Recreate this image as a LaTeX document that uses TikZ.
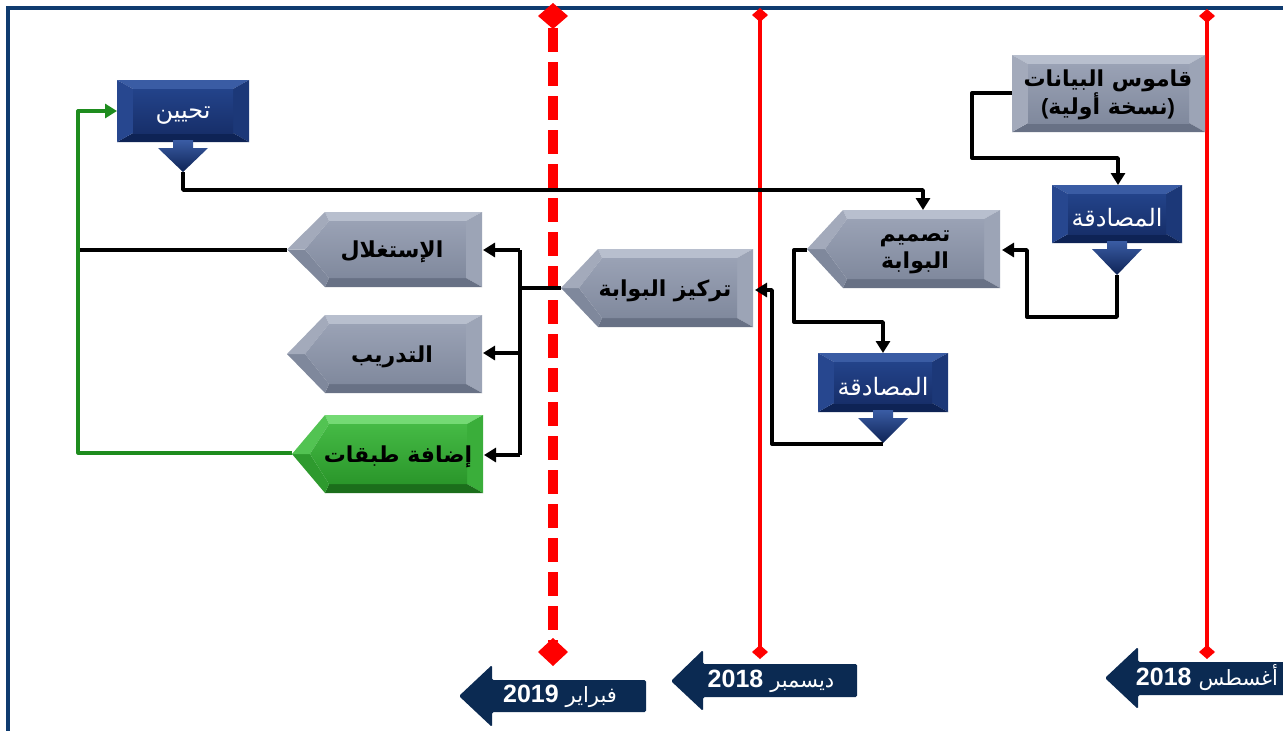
\documentclass[tikz,border=0pt]{standalone}
\usepackage{fontspec}
\setmainfont{Liberation Sans}
\newfontfamily\arabicfont[Script=Arabic]{DejaVu Sans}
\newfontfamily\latinfont{Liberation Sans}
\newcommand\datearfont{\fontsize{21}{26}\selectfont\arabicfont\mdseries}
\TeXXeTstate=1
\usetikzlibrary{arrows.meta,calc}

\definecolor{frameblue}{HTML}{0F3B6F}
\definecolor{navy}{HTML}{0B2A52}
\definecolor{tlred}{HTML}{FF0000}
\definecolor{lgreen}{HTML}{1E8C1E}
% gray bevel
\definecolor{gT}{HTML}{B8BFCE}
\definecolor{gL}{HTML}{A3AABB}
\definecolor{gLB}{HTML}{7F889C}
\definecolor{gR}{HTML}{9CA4B6}
\definecolor{gB}{HTML}{687185}
\definecolor{gIT}{HTML}{9AA2B5}
\definecolor{gIB}{HTML}{80899D}
% blue bevel
\definecolor{nT}{HTML}{3A5CA4}
\definecolor{nL}{HTML}{27478F}
\definecolor{nLB}{HTML}{1A3573}
\definecolor{nR}{HTML}{1C3878}
\definecolor{nB}{HTML}{0E2355}
\definecolor{nIT}{HTML}{23438A}
\definecolor{nIB}{HTML}{172F6A}
% green bevel
\definecolor{grT}{HTML}{74DA74}
\definecolor{grL}{HTML}{52C352}
\definecolor{grLB}{HTML}{2E9A2E}
\definecolor{grR}{HTML}{3AAE3A}
\definecolor{grB}{HTML}{1B6E1B}
\definecolor{grIT}{HTML}{45BA45}
\definecolor{grIB}{HTML}{2A962A}

\newcommand\bevrect[5]{%
  \fill[#5T] (#1,#2) -- (#3,#2) -- (#3-16,#2+9) -- (#1+16,#2+9) -- cycle;
  \fill[#5R] (#3,#2) -- (#3,#4) -- (#3-16,#4-9) -- (#3-16,#2+9) -- cycle;
  \fill[#5B] (#3,#4) -- (#1,#4) -- (#1+16,#4-9) -- (#3-16,#4-9) -- cycle;
  \fill[#5L] (#1,#4) -- (#1,#2) -- (#1+16,#2+9) -- (#1+16,#4-9) -- cycle;
  \shade[top color=#5IT, bottom color=#5IB] (#1+16,#2+9) rectangle (#3-16,#4-9);
}
\newcommand\bevpent[6]{%
  \pgfmathsetmacro\pmid{(#4+#5)/2}%
  \fill[#6T] (#2,#4) -- (#3,#4) -- (#3-16,#4+9) -- (#2+4,#4+9) -- cycle;
  \fill[#6R] (#3,#4) -- (#3,#5) -- (#3-16,#5-9) -- (#3-16,#4+9) -- cycle;
  \fill[#6B] (#3,#5) -- (#2,#5) -- (#2+4,#5-9) -- (#3-16,#5-9) -- cycle;
  \fill[#6LB] (#2,#5) -- (#1,\pmid) -- (#1+18,\pmid) -- (#2+4,#5-9) -- cycle;
  \fill[#6L] (#1,\pmid) -- (#2,#4) -- (#2+4,#4+9) -- (#1+18,\pmid) -- cycle;
  \shade[top color=#6IT, bottom color=#6IB] (#2+4,#4+9) -- (#3-16,#4+9) -- (#3-16,#5-9) -- (#2+4,#5-9) -- (#1+18,\pmid) -- cycle;
}
\newcommand\downarr[3]{%
  \shade[top color=nT, bottom color=nB] (#1-10,#2-2) -- (#1+10,#2-2) -- (#1+10,#2+6) -- (#1+25,#2+6) -- (#1,#3) -- (#1-25,#2+6) -- (#1-10,#2+6) -- cycle;
}

\tikzset{
  graylbl/.style={font=\fontsize{22}{27}\selectfont\bfseries\arabicfont, text=black, align=center, inner sep=0pt},
  bluelbl/.style={font=\fontsize{24}{28}\selectfont\arabicfont, text=white, inner sep=0pt},
  datelbl/.style={font=\fontsize{25}{28}\selectfont\bfseries, text=white, inner sep=0pt},
  plainline/.style={draw=black, line width=3.4pt, line join=round},
  conn/.style={plainline, -{Triangle[width=14pt,length=12pt]}},
  gconn/.style={draw=lgreen, line width=3.2pt, line join=round, -{Triangle[width=14pt,length=12pt]}},
  redline/.style={draw=tlred, line width=4.5pt},
  datearrow/.style={fill=navy, rounded corners=1.5pt},
}

\begin{document}
\begin{tikzpicture}[x=1pt,y=-1pt]
\useasboundingbox (0,0) rectangle (1283,731);
\fill[white] (0,0) rectangle (1283,731);

% frame
\draw[frameblue, line width=4pt] (8,731) -- (8,8) -- (1290,8);

% timeline red lines
\draw[tlred, line width=10pt, dash pattern=on 24pt off 10pt] (553,28) -- (553,642);
\fill[tlred] (553,3) -- (568,16) -- (553,29) -- (538,16) -- cycle;
\fill[tlred] (553,638) -- (568,652) -- (553,666) -- (538,652) -- cycle;
\draw[redline] (760,18) -- (760,650);
\fill[tlred] (760,8) -- (768,15) -- (760,22) -- (752,15) -- cycle;
\fill[tlred] (760,645) -- (768,652) -- (760,659) -- (752,652) -- cycle;
\draw[redline] (1207,18) -- (1207,650);
\fill[tlred] (1207,9) -- (1215,16) -- (1207,23) -- (1199,16) -- cycle;
\fill[tlred] (1207,645) -- (1215,652) -- (1207,659) -- (1199,652) -- cycle;

% date arrows
\fill[datearrow] (459,696) -- (492,665) -- (492,680) -- (646,680) -- (646,712) -- (492,712) -- (492,727) -- cycle;
\fill[datearrow] (671,681) -- (703,650) -- (703,664) -- (857,664) -- (857,697) -- (703,697) -- (703,711) -- cycle;
\fill[datearrow] (1105,678) -- (1138,647) -- (1138,662) -- (1295,662) -- (1295,695) -- (1138,695) -- (1138,709) -- cycle;
\node[datelbl] (feb) at (560,696) {2019 {\datearfont\beginR فبراير\endR}};
\node[datelbl] (dec) at (771,681) {2018 {\datearfont\beginR ديسمبر\endR}};
\node[datelbl] (aug) at (1207,678) {2018 {\datearfont\beginR أغسطس\endR}};

% boxes
\bevrect{117}{80}{249}{142}{n}
\downarr{183}{142}{172}
\bevrect{1012}{55}{1205}{132}{g}
\bevrect{1052}{185}{1182}{243}{n}
\downarr{1117}{243}{275}
\bevrect{818}{353}{948}{412}{n}
\downarr{883}{412}{443}
\bevpent{807}{843}{1000}{210}{288}{g}
\bevpent{561}{598}{753}{249}{327}{g}
\bevpent{287}{325}{482}{212}{287}{g}
\bevpent{287}{325}{482}{315}{393}{g}
\bevpent{292}{325}{483}{415}{493}{gr}

% labels
\node[bluelbl] (tahseen) at (183,116) {\beginR تحيين\endR};
\node[graylbl] (qamus) at (1108,95) {\beginR قاموس البيانات\endR\\{\latinfont\bfseries(}\beginR نسخة أولية\endR{\latinfont\bfseries)}};
\node[bluelbl] (musadaqa1) at (1117,218) {\beginR المصادقة\endR};
\node[bluelbl] (musadaqa2) at (883,387) {\beginR المصادقة\endR};
\node[graylbl] (taqmim) at (915,252) {\beginR تصميم\endR\\\beginR البوابة\endR};
\node[graylbl] (tarkiz) at (665,291) {\beginR تركيز البوابة\endR};
\node[graylbl] (istighlal) at (392,252) {\beginR الإستغلال\endR};
\node[graylbl] (tadrib) at (392,357) {\beginR التدريب\endR};
\node[graylbl] (idafa) at (398,457) {\beginR إضافة طبقات\endR};

% connection points
\coordinate (tahseen-out) at (183,172);
\coordinate (tahseen-in) at (117,111);
\coordinate (qamus-out) at (1012,93);
\coordinate (musadaqa1-in) at (1118,185);
\coordinate (musadaqa1-out) at (1117,275);
\coordinate (taqmim-top) at (923,210);
\coordinate (taqmim-rin) at (1002,250);
\coordinate (taqmim-tip) at (807,250);
\coordinate (musadaqa2-in) at (883,353);
\coordinate (musadaqa2-out) at (883,444);
\coordinate (tarkiz-rin) at (755,290);
\coordinate (tarkiz-tip) at (561,288);
\coordinate (bus-top) at (520,250);
\coordinate (bus-mid) at (520,353);
\coordinate (bus-bot) at (520,455);
\coordinate (istighlal-rin) at (483,250);
\coordinate (istighlal-tip) at (287,250);
\coordinate (tadrib-rin) at (483,353);
\coordinate (idafa-rin) at (484,455);
\coordinate (idafa-tip) at (292,453);
\coordinate (leftbus) at (78,250);

% connectors
\draw[conn] (tahseen-out) -- ++(0,18) -| (taqmim-top);
\draw[conn] (qamus-out) -| (972,158) -| (musadaqa1-in);
\draw[conn] (musadaqa1-out) |- (1027,317) |- (taqmim-rin);
\draw[conn] (taqmim-tip) -| (794,322) -| (musadaqa2-in);
\draw[conn] (musadaqa2-out) -| (772,290) -- (tarkiz-rin);
\draw[plainline] (tarkiz-tip) -- (520,288);
\draw[plainline] (bus-top) -- (bus-bot);
\draw[conn] (bus-top) -- (istighlal-rin);
\draw[conn] (bus-mid) -- (tadrib-rin);
\draw[conn] (bus-bot) -- (idafa-rin);
\draw[plainline] (istighlal-tip) -- (leftbus);
\draw[gconn] (idafa-tip) -| (78,111) -- (tahseen-in);
\end{tikzpicture}
\end{document}
